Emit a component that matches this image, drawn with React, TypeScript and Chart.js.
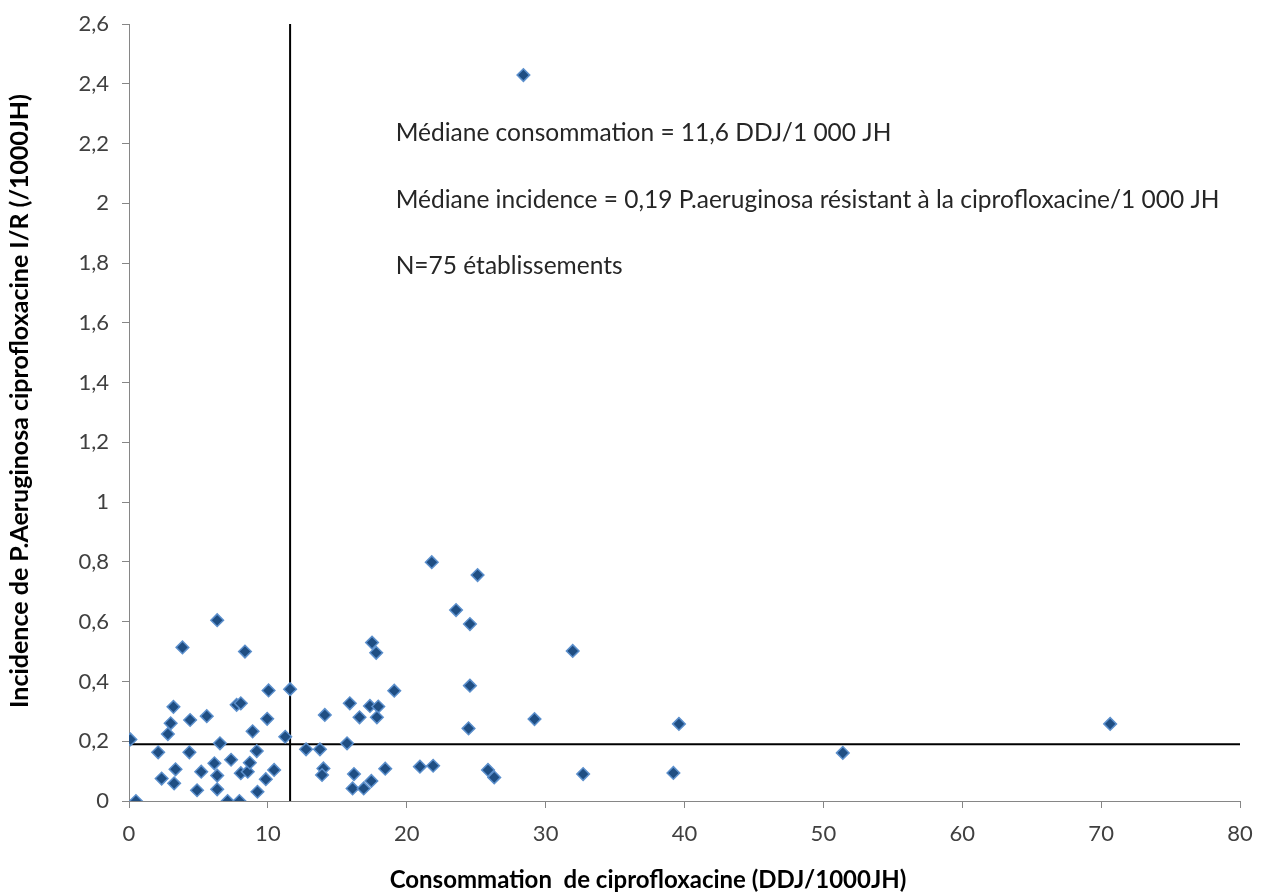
import React, { useEffect, useRef } from "react";
import { Chart, registerables } from "chart.js";

Chart.register(...registerables);

const consommation: number[] = [
  0.1, 0.5, 2.1, 2.35, 2.8, 3.0, 3.2, 3.25, 3.35, 3.85,
  4.4, 4.35, 4.9, 5.2, 5.6, 6.15, 6.35, 6.35, 6.35, 6.55,
  7.1, 7.35, 7.75, 8.05, 7.95, 8.05, 8.35, 8.55, 8.7, 8.9,
  9.2, 9.25, 9.85, 9.95, 10.05, 10.45, 11.25, 11.6, 12.75, 13.75,
  14.1, 14.0, 13.9, 15.7, 15.9, 16.6, 16.2, 16.1, 16.9, 17.45,
  17.5, 17.8, 17.35, 17.95, 17.85, 19.1, 18.45, 20.95, 21.8, 25.1,
  23.55, 24.55, 31.95, 24.55, 24.45, 29.2, 21.9, 25.85, 26.3, 32.7,
  28.4, 39.6, 39.2, 51.4, 70.65,
];

const incidence: number[] = [
  0.206, 0.0, 0.163, 0.075, 0.224, 0.26, 0.315, 0.059, 0.106, 0.514,
  0.271, 0.163, 0.036, 0.098, 0.284, 0.126, 0.605, 0.085, 0.039, 0.193,
  0.0, 0.138, 0.322, 0.327, 0.0, 0.093, 0.5, 0.098, 0.128, 0.233,
  0.167, 0.031, 0.073, 0.275, 0.37, 0.104, 0.215, 0.374, 0.173, 0.173,
  0.288, 0.109, 0.087, 0.193, 0.327, 0.28, 0.09, 0.042, 0.042, 0.067,
  0.53, 0.496, 0.318, 0.316, 0.28, 0.369, 0.108, 0.115, 0.799, 0.756,
  0.639, 0.592, 0.502, 0.386, 0.243, 0.274, 0.118, 0.104, 0.079, 0.09,
  2.429, 0.258, 0.094, 0.161, 0.258,
];

const medianConsommation = 11.6;
const medianIncidence = 0.19;
const xMin = 0;
const xMax = 80;
const yMin = 0;
const yMax = 2.6;

const annotationLines: string[] = [
  "Médiane consommation = 11,6 DDJ/1 000 JH",
  "Médiane incidence = 0,19 P.aeruginosa résistant à la ciprofloxacine/1 000 JH",
  "N=75 établissements",
];
const annotationX = 19.2;
const annotationY: number[] = [2.235, 2.01, 1.789];

const xTitle = "Consommation  de ciprofloxacine (DDJ/1000JH)";
const yTitle = "Incidence de P.Aeruginosa ciprofloxacine I/R (/1000JH)";

const FONT = "Lato, 'Open Sans', sans-serif";

export default function App() {
  const canvasRef = useRef<HTMLCanvasElement | null>(null);

  useEffect(() => {
    const canvas = canvasRef.current;
    if (!canvas) return;

    const textPlugin = {
      id: "annotText",
      afterDatasetsDraw(chart: any) {
        const ctx = chart.ctx;
        const xs = chart.scales.x;
        const ys = chart.scales.y;
        ctx.save();
        ctx.fillStyle = "#262626";
        ctx.font = `24.5px ${FONT}`;
        ctx.textAlign = "left";
        ctx.textBaseline = "middle";
        annotationLines.forEach((t, i) => {
          ctx.fillText(t, xs.getPixelForValue(annotationX), ys.getPixelForValue(annotationY[i]));
        });
        ctx.restore();
      },
      afterDraw(chart: any) {
        const ctx = chart.ctx;
        ctx.save();
        ctx.fillStyle = "#000000";
        ctx.textAlign = "center";
        ctx.textBaseline = "middle";
        ctx.font = `bold 24px ${FONT}`;
        ctx.fillText(xTitle, 648, 880);
        ctx.translate(20, 401);
        ctx.rotate(-Math.PI / 2);
        ctx.font = `bold 25px ${FONT}`;
        ctx.fillText(yTitle, 0, 0);
        ctx.restore();
      },
    };

    const points = consommation.map((x, i) => ({ x, y: incidence[i] }));

    const chart = new Chart(canvas, {
      type: "scatter",
      data: {
        datasets: [
          {
            label: "Établissements",
            data: points,
            pointStyle: "rectRot",
            pointRadius: 6.3,
            pointHoverRadius: 6.3,
            backgroundColor: "#1F4E83",
            borderColor: "#5B8FCC",
            borderWidth: 1.5,
          },
          {
            label: "Médiane consommation",
            data: [
              { x: medianConsommation, y: yMin },
              { x: medianConsommation, y: yMax },
            ],
            showLine: true,
            pointRadius: 0,
            borderColor: "#000000",
            borderWidth: 2,
          },
          {
            label: "Médiane incidence",
            data: [
              { x: xMin, y: medianIncidence },
              { x: xMax, y: medianIncidence },
            ],
            showLine: true,
            pointRadius: 0,
            borderColor: "#000000",
            borderWidth: 2,
          },
        ],
      },
      options: {
        animation: false,
        responsive: false,
        maintainAspectRatio: false,
        layout: { padding: { top: 24, right: 31, left: 0, bottom: 0 } },
        plugins: {
          legend: { display: false },
          tooltip: { enabled: false },
        },
        scales: {
          x: {
            type: "linear",
            min: xMin,
            max: xMax,
            ticks: {
              stepSize: 10,
              color: "#404040",
              font: { family: FONT, size: 22 },
              padding: 13,
            },
            grid: {
              drawOnChartArea: false,
              drawTicks: true,
              tickLength: 7,
              color: "#868686",
            },
            border: { display: true, color: "#868686", width: 1 },
            title: { display: false },
            afterFit(scale: any) {
              scale.height = 94;
              scale.paddingLeft = 0;
              scale.paddingRight = 0;
            },
          },
          y: {
            type: "linear",
            min: yMin,
            max: yMax,
            ticks: {
              stepSize: 0.2,
              color: "#404040",
              font: { family: FONT, size: 22 },
              padding: 13,
              callback: (v: any) => String(Math.round(Number(v) * 10) / 10).replace(".", ","),
            },
            grid: {
              drawOnChartArea: false,
              drawTicks: true,
              tickLength: 7,
              color: "#868686",
            },
            border: { display: true, color: "#868686", width: 1 },
            title: { display: false },
            afterFit(scale: any) {
              scale.width = 129;
              scale.paddingTop = 0;
              scale.paddingBottom = 0;
            },
          },
        },
      },
      plugins: [textPlugin],
    });

    return () => {
      chart.destroy();
    };
  }, []);

  return (
    <div style={{ position: "fixed", left: 0, top: 0, width: 1271, height: 895, background: "#ffffff" }}>
      <canvas ref={canvasRef} width={1271} height={895} style={{ width: 1271, height: 895 }} />
    </div>
  );
}
